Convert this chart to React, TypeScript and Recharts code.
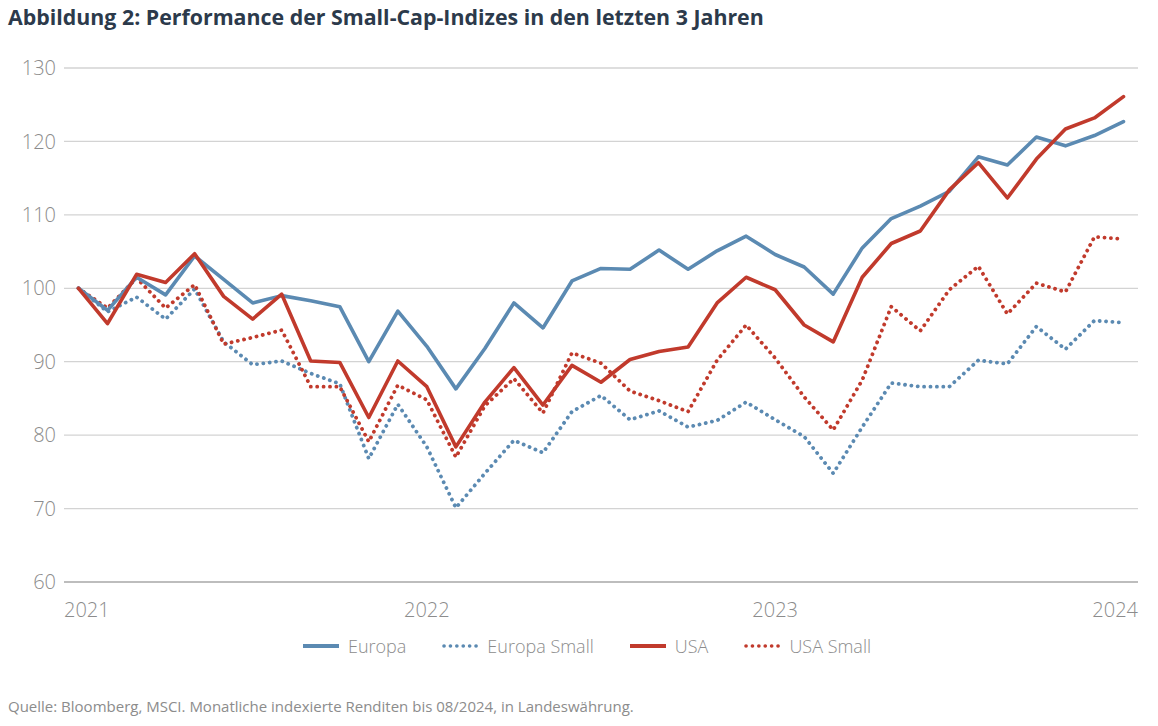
import React from "react";
import { LineChart, Line, XAxis, YAxis, CartesianGrid } from "recharts";

// monthly index values, start = 100
const europa = [
  100, 97.0, 101.5, 99.1, 104.4, 101.2, 98.0, 99.0, 98.3, 97.5, 90.0, 96.9,
  92.1, 86.3, 91.8, 98.0, 94.6, 101.0, 102.7, 102.6, 105.2, 102.6, 105.1,
  107.1, 104.6, 102.9, 99.2, 105.5, 109.5, 111.2, 113.2, 117.9, 116.8, 120.6,
  119.4, 120.8, 122.7,
];
const europaSmall = [
  100, 96.8, 98.8, 95.8, 99.9, 92.7, 89.6, 90.1, 88.4, 87.0, 76.8, 84.2, 78.4,
  70.1, 74.8, 79.3, 77.6, 83.2, 85.4, 82.1, 83.3, 81.1, 82.0, 84.5, 82.1, 79.8,
  74.8, 81.1, 87.1, 86.6, 86.6, 90.2, 89.7, 94.8, 91.7, 95.6, 95.3,
];
const usa = [
  100, 95.2, 101.9, 100.8, 104.7, 98.9, 95.8, 99.2, 90.1, 89.9, 82.4, 90.1,
  86.6, 78.4, 84.5, 89.2, 84.1, 89.5, 87.2, 90.3, 91.4, 92.0, 98.0, 101.5,
  99.8, 95.0, 92.7, 101.5, 106.1, 107.8, 113.4, 117.1, 112.3, 117.6, 121.7,
  123.2, 126.1,
];
const usaSmall = [
  100, 97.3, 101.4, 97.3, 100.5, 92.4, 93.3, 94.3, 86.6, 86.6, 79.1, 86.8,
  84.8, 77.0, 84.0, 87.7, 83.0, 91.2, 89.8, 86.0, 84.7, 83.2, 90.2, 95.0, 90.5,
  85.2, 80.7, 87.5, 97.5, 94.2, 99.8, 103.0, 96.5, 100.7, 99.5, 107.0, 106.7,
];

const yearTicks = [0, 12, 24, 36];
const yearLabels = ["2021", "2022", "2023", "2024"];
const yTicks = [60, 70, 80, 90, 100, 110, 120, 130];

const BLUE = "#5b8ab2";
const RED = "#c13a2c";
const GREY = "#8c8c8c";
const FONT = "'Open Sans', 'Noto Sans', sans-serif";

const data = europa.map((v, i) => ({
  i,
  europa: v,
  europaSmall: europaSmall[i],
  usa: usa[i],
  usaSmall: usaSmall[i],
}));

const series = [
  { key: "europa", label: "Europa", color: BLUE, dotted: false },
  { key: "europaSmall", label: "Europa Small", color: BLUE, dotted: true },
  { key: "usa", label: "USA", color: RED, dotted: false },
  { key: "usaSmall", label: "USA Small", color: RED, dotted: true },
];

const DOTS = "0.1 6.3";

function YearTick(props: any) {
  const { x, y, payload } = props;
  const idx = yearTicks.indexOf(payload.value);
  const last = idx === yearTicks.length - 1;
  // first/last labels are pulled inside the plot edges
  const anchor = idx === 0 ? "start" : last ? "end" : "middle";
  const dx = idx === 0 ? -14.5 : last ? 14.5 : 0;
  return (
    <text
      x={x + dx}
      y={y}
      dy={27}
      textAnchor={anchor}
      fill={GREY}
      fontSize={20}
      fontWeight={300}
      fontFamily={FONT}
    >
      {yearLabels[idx]}
    </text>
  );
}

function LegendRow() {
  return (
    <div
      style={{
        position: "absolute",
        top: 634,
        left: 8,
        width: 1158,
        display: "flex",
        justifyContent: "center",
        gap: 36,
        fontFamily: FONT,
        fontSize: 18,
        fontWeight: 300,
        color: GREY,
      }}
    >
      {series.map((s) => (
        <div key={s.key} style={{ display: "flex", alignItems: "center", gap: 9 }}>
          <svg width={36} height={8}>
            <line
              x1={s.dotted ? 2 : 0}
              y1={4}
              x2={36}
              y2={4}
              stroke={s.color}
              strokeWidth={s.dotted ? 3.6 : 4}
              strokeLinecap={s.dotted ? "round" : "butt"}
              strokeDasharray={s.dotted ? DOTS : undefined}
            />
          </svg>
          <span>{s.label}</span>
        </div>
      ))}
    </div>
  );
}

export default function App() {
  const drawOrder = ["europaSmall", "usaSmall", "europa", "usa"];
  return (
    <div
      style={{
        position: "absolute",
        left: 0,
        top: 0,
        width: 1158,
        height: 726,
        background: "#fff",
        fontFamily: FONT,
      }}
    >
      <div
        style={{
          position: "absolute",
          left: 8,
          top: 2,
          fontSize: 21.35,
          fontWeight: 700,
          color: "#2c3a4b",
          whiteSpace: "nowrap",
        }}
      >
        Abbildung 2: Performance der Small-Cap-Indizes in den letzten 3 Jahren
      </div>

      <div style={{ position: "absolute", left: 0, top: 0 }}>
        <LineChart
          width={1158}
          height={622}
          data={data}
          margin={{ top: 68, right: 20, left: 0, bottom: 0 }}
        >
          <CartesianGrid vertical={false} stroke="#d3d3d3" strokeWidth={1.3} />
          <XAxis
            dataKey="i"
            type="number"
            domain={[-0.5, 36.5]}
            ticks={yearTicks}
            tick={<YearTick />}
            tickLine={false}
            axisLine={{ stroke: "#bdbdbd", strokeWidth: 2 }}
            height={40}
          />
          <YAxis
            domain={[60, 130]}
            ticks={yTicks}
            width={64}
            tickLine={false}
            axisLine={false}
            tick={{ fill: GREY, fontSize: 20, fontWeight: 300, fontFamily: FONT }}
          />
          {drawOrder.map((k) => {
            const s = series.find((x) => x.key === k)!;
            return (
              <Line
                key={s.key}
                dataKey={s.key}
                type="linear"
                stroke={s.color}
                strokeWidth={s.dotted ? 3.8 : 3.6}
                strokeDasharray={s.dotted ? DOTS : undefined}
                strokeLinecap="round"
                strokeLinejoin="round"
                dot={false}
                activeDot={false}
                isAnimationActive={false}
              />
            );
          })}
        </LineChart>
      </div>

      <LegendRow />

      <div
        style={{
          position: "absolute",
          left: 8,
          top: 696,
          fontSize: 15,
          color: GREY,
          whiteSpace: "nowrap",
        }}
      >
        Quelle: Bloomberg, MSCI. Monatliche indexierte Renditen bis 08/2024, in Landeswährung.
      </div>
    </div>
  );
}
